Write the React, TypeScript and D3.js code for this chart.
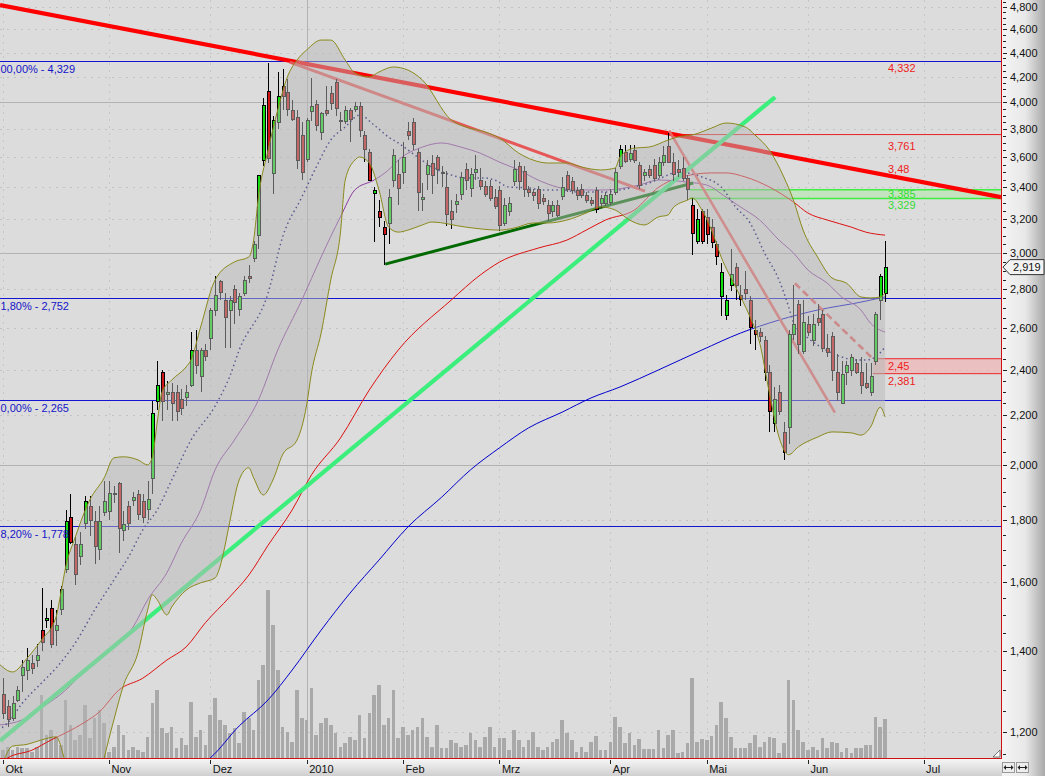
import React from "react";
import * as d3 from "d3";

const W = 1045;
const H = 776;
const PR = 1001; // plot right
const PB = 758; // plot bottom

const monthLabels = ["Okt", "Nov", "Dez", "2010", "Feb", "Mrz", "Apr", "Mai", "Jun", "Jul"];
const monthStarts = [0, 22, 43, 63, 83, 103, 126, 146, 167, 191];

const open = [
  1.290,1.260,1.232,1.276,1.340,1.351,1.370,1.377,1.458,1.486,
  1.520,1.458,1.518,1.640,1.810,1.720,1.680,1.790,1.850,1.798,
  1.705,1.830,1.832,1.890,1.930,1.765,1.850,1.870,1.890,1.868,
  1.840,1.950,2.260,2.390,2.290,2.300,2.300,2.270,2.280,2.330,
  2.490,2.370,2.490,2.550,2.690,2.840,2.740,2.690,2.800,2.690,
  2.780,2.870,2.970,3.100,3.580,4.090,3.500,3.850,4.130,4.080,
  3.940,3.890,3.760,3.590,3.930,3.990,3.780,3.940,4.070,4.160,
  3.870,3.860,3.940,3.950,3.970,3.760,3.640,3.360,3.250,3.150,
  3.180,3.450,3.490,3.500,3.790,3.850,3.640,3.330,3.490,3.560,
  3.600,3.500,3.400,3.250,3.290,3.360,3.520,3.400,3.500,3.450,
  3.410,3.410,3.340,3.380,3.180,3.250,3.440,3.540,3.510,3.390,
  3.370,3.390,3.330,3.290,3.250,3.290,3.340,3.480,3.440,3.380,
  3.390,3.350,3.320,3.380,3.300,3.300,3.310,3.370,3.540,3.640,
  3.590,3.650,3.550,3.480,3.520,3.550,3.480,3.570,3.680,3.570,
  3.520,3.530,3.460,3.290,3.070,3.250,3.210,3.150,3.050,2.760,
  2.660,2.820,2.920,2.770,2.800,2.740,2.590,2.580,2.540,2.390,
  2.170,2.300,2.130,2.150,2.570,2.720,2.490,2.620,2.540,2.650,
  2.670,2.500,2.560,2.390,2.250,2.390,2.400,2.430,2.390,2.340,
  2.300,2.440,2.740,2.780,
];
const high = [
  1.330,1.276,1.285,1.310,1.377,1.408,1.390,1.420,1.580,1.520,
  1.544,1.514,1.587,1.836,1.890,1.745,1.760,1.885,1.885,1.832,
  1.850,1.940,1.940,1.920,1.935,1.830,1.868,1.900,1.906,1.890,
  1.940,2.260,2.440,2.400,2.350,2.340,2.330,2.310,2.330,2.580,
  2.590,2.500,2.520,2.700,2.870,2.850,2.780,2.760,2.820,2.780,
  2.870,2.930,3.070,3.480,4.030,4.310,3.900,4.240,4.260,4.180,
  4.020,3.940,3.850,3.880,4.190,4.020,3.930,4.130,4.130,4.180,
  3.930,3.970,3.960,4.000,4.000,3.790,3.660,3.400,3.320,3.190,
  3.390,3.660,3.580,3.710,3.850,3.880,3.660,3.430,3.580,3.620,
  3.620,3.540,3.510,3.320,3.360,3.500,3.560,3.530,3.620,3.530,
  3.440,3.450,3.390,3.410,3.330,3.340,3.580,3.570,3.540,3.410,
  3.390,3.410,3.360,3.320,3.310,3.320,3.470,3.510,3.470,3.400,
  3.420,3.370,3.340,3.400,3.350,3.370,3.390,3.530,3.690,3.690,
  3.690,3.690,3.570,3.520,3.550,3.590,3.600,3.680,3.770,3.630,
  3.580,3.600,3.480,3.330,3.260,3.260,3.260,3.200,3.070,2.940,
  2.770,3.020,2.940,2.820,2.900,2.760,2.640,2.600,2.560,2.420,
  2.320,2.330,2.170,2.590,2.820,2.740,2.740,2.660,2.670,2.720,
  2.690,2.570,2.580,2.470,2.440,2.440,2.470,2.450,2.460,2.430,
  2.430,2.680,2.880,3.070,
];
const low = [
  1.230,1.212,1.225,1.270,1.295,1.325,1.340,1.360,1.400,1.465,
  1.410,1.415,1.500,1.625,1.720,1.590,1.650,1.770,1.745,1.655,
  1.666,1.815,1.800,1.860,1.690,1.730,1.765,1.850,1.800,1.790,
  1.800,1.890,2.220,2.175,2.220,2.175,2.175,2.200,2.240,2.320,
  2.380,2.300,2.440,2.490,2.660,2.740,2.500,2.500,2.620,2.660,
  2.760,2.830,2.950,3.020,3.540,3.560,3.360,3.800,3.940,3.900,
  3.860,3.520,3.450,3.570,3.860,3.790,3.720,3.900,3.940,3.900,
  3.790,3.840,3.710,3.930,3.740,3.570,3.440,3.060,3.150,2.930,
  3.050,3.400,3.290,3.420,3.720,3.650,3.250,3.250,3.380,3.360,
  3.420,3.400,3.160,3.140,3.240,3.320,3.380,3.340,3.450,3.380,
  3.340,3.310,3.260,3.130,3.160,3.220,3.410,3.380,3.340,3.340,
  3.310,3.260,3.290,3.190,3.210,3.210,3.320,3.370,3.360,3.320,
  3.330,3.300,3.280,3.240,3.270,3.280,3.290,3.350,3.520,3.560,
  3.570,3.560,3.390,3.440,3.460,3.440,3.460,3.540,3.560,3.440,
  3.470,3.440,3.320,2.990,3.050,3.050,3.050,3.030,2.930,2.660,
  2.640,2.790,2.740,2.710,2.740,2.520,2.490,2.530,2.350,2.130,
  2.130,2.200,2.020,2.080,2.540,2.470,2.470,2.560,2.510,2.610,
  2.480,2.460,2.350,2.260,2.250,2.330,2.370,2.380,2.290,2.310,
  2.280,2.420,2.640,2.730,
];
const close = [
  1.245,1.228,1.268,1.300,1.360,1.377,1.357,1.390,1.424,1.492,
  1.420,1.472,1.578,1.798,1.725,1.625,1.720,1.868,1.800,1.715,
  1.798,1.868,1.895,1.895,1.770,1.785,1.790,1.880,1.820,1.810,
  1.875,2.210,2.330,2.260,2.300,2.250,2.220,2.230,2.300,2.490,
  2.420,2.490,2.460,2.690,2.770,2.780,2.650,2.740,2.730,2.760,
  2.850,2.860,3.050,3.480,3.980,3.600,3.870,4.050,4.050,3.950,
  3.870,3.580,3.500,3.870,3.970,3.830,3.920,3.920,3.990,3.960,
  3.860,3.940,3.870,3.970,3.790,3.660,3.450,3.380,3.210,3.110,
  3.340,3.620,3.400,3.600,3.760,3.690,3.370,3.340,3.550,3.480,
  3.520,3.490,3.230,3.200,3.310,3.470,3.450,3.490,3.520,3.410,
  3.360,3.330,3.280,3.160,3.290,3.300,3.520,3.440,3.390,3.370,
  3.350,3.300,3.310,3.240,3.290,3.230,3.400,3.390,3.380,3.350,
  3.350,3.320,3.300,3.260,3.330,3.350,3.360,3.500,3.660,3.580,
  3.630,3.580,3.420,3.500,3.480,3.460,3.570,3.620,3.570,3.490,
  3.500,3.460,3.390,3.120,3.200,3.070,3.110,3.060,2.980,2.890,
  2.740,2.880,2.820,2.750,2.780,2.600,2.570,2.560,2.390,2.220,
  2.270,2.220,2.050,2.570,2.620,2.520,2.630,2.580,2.620,2.630,
  2.500,2.480,2.400,2.300,2.380,2.420,2.460,2.390,2.330,2.320,
  2.370,2.670,2.870,2.919,
];
const volume = [
  80,110,80,110,100,100,60,110,630,230,
  280,210,130,580,330,180,230,530,200,400,
  480,350,60,110,330,230,80,110,80,60,
  210,550,680,300,250,310,100,200,130,560,
  210,280,130,430,600,380,330,250,300,150,
  460,400,280,780,930,1680,1330,880,310,260,
  160,680,400,380,700,230,350,400,330,250,
  110,150,210,180,430,200,450,630,730,330,
  400,680,200,310,230,280,310,400,210,110,
  330,100,100,180,150,110,130,250,180,110,
  210,310,110,200,200,80,280,180,110,180,
  260,110,80,110,160,190,380,250,180,60,
  110,60,160,220,80,80,160,410,310,150,
  250,130,190,90,90,90,280,100,230,280,
  50,60,150,800,160,190,180,220,330,560,
  400,210,100,100,100,150,230,110,160,210,
  200,50,150,780,580,280,160,80,110,80,
  200,100,160,150,60,100,50,100,100,130,
  130,410,310,390,
];

// indicator lines: [trading-day index, value]
const bbUpper: [number, number][] = [
  [-1,1.369],[2,1.346],[5,1.382],[8,1.431],[11,1.495],[12,1.565],[13,1.645],[15,1.742],[18,1.870],[21,1.951],
  [23,2.027],[25,2.031],[28,2.019],[30,2.000],[31,2.031],[32,2.171],[33,2.299],[35,2.352],[38,2.412],[39,2.444],
  [41,2.603],[44,2.848],[48,2.948],[51,2.976],[52,3.074],[53,3.337],[55,3.651],[57,3.942],[59,4.199],[61,4.337],
  [63,4.421],[66,4.506],[68,4.506],[71,4.337],[73,4.231],[76,4.199],[78,4.239],[81,4.280],[84,4.255],[87,4.175],
  [93,3.867],[96,3.816],[100,3.780],[103,3.736],[107,3.630],[110,3.582],[113,3.562],[117,3.562],[120,3.535],[124,3.515],
  [127,3.528],[128,3.603],[131,3.665],[134,3.672],[138,3.722],[140,3.744],[143,3.758],[147,3.808],[150,3.845],[154,3.816],
  [156,3.758],[159,3.651],[162,3.468],[164,3.318],[166,3.133],[169,2.976],[172,2.859],[175,2.831],[178,2.757],[180,2.752],
  [182,2.757],[183,2.778],
];
const bbLower: [number, number][] = [
  [-1,1.10],[2,1.168],[5,1.172],[8,1.182],[11,1.189],[13,1.13],[16,1.02],[19,1.05],[21,1.142],[23,1.228],
  [25,1.312],[28,1.396],[30,1.515],[31,1.560],[32,1.545],[34,1.501],[35,1.524],[38,1.574],[41,1.596],[44,1.611],
  [45,1.645],[46,1.709],[47,1.790],[49,1.943],[51,1.989],[52,1.951],[54,1.888],[56,1.943],[58,2.039],[61,2.097],
  [63,2.243],[64,2.384],[66,2.573],[68,2.848],[70,3.115],[71,3.448],[73,3.582],[74,3.603],[76,3.562],[78,3.383],
  [80,3.151],[82,3.121],[84,3.133],[87,3.164],[89,3.182],[96,3.151],[103,3.133],[106,3.145],[110,3.176],[113,3.176],
  [117,3.194],[121,3.237],[124,3.275],[127,3.256],[130,3.194],[133,3.164],[136,3.213],[138,3.225],[139,3.269],[142,3.318],
  [143,3.331],[145,3.256],[147,3.133],[149,2.976],[152,2.810],[155,2.653],[157,2.524],[159,2.295],[161,2.109],[163,2.039],
  [165,2.070],[169,2.109],[172,2.130],[176,2.126],[178,2.117],[180,2.150],[182,2.233],[183,2.192],
];
const sma20: [number, number][] = [
  [-1,1.205],[1,1.221],[4,1.268],[8,1.318],[11,1.356],[15,1.423],[19,1.515],[23,1.605],[26,1.676],[29,1.766],
  [32,1.835],[35,1.943],[39,2.097],[44,2.238],[47,2.366],[49,2.491],[55,2.778],[58,3.091],[62,3.337],[65,3.535],
  [68,3.722],[71,3.816],[74,3.904],[77,3.830],[80,3.743],[82,3.701],[86,3.603],[89,3.535],[93,3.481],[96,3.461],
  [100,3.461],[102,3.448],[105,3.402],[109,3.396],[112,3.383],[116,3.383],[119,3.370],[122,3.370],[125,3.370],[128,3.383],
  [131,3.402],[134,3.428],[137,3.468],[140,3.501],[145,3.468],[149,3.402],[152,3.275],[155,3.176],[158,2.999],[161,2.848],
  [163,2.705],[164,2.627],[167,2.549],[169,2.515],[174,2.458],[177,2.444],[179,2.444],[181,2.458],[183,2.505],
];
const smaPurple: [number, number][] = [
  [-1,1.216],[4,1.228],[8,1.257],[13,1.300],[17,1.351],[22,1.404],[27,1.467],[30,1.545],[34,1.627],[37,1.722],
  [41,1.835],[44,1.981],[48,2.097],[53,2.264],[57,2.491],[62,2.741],[66,2.976],[70,3.213],[73,3.383],[77,3.448],
  [80,3.515],[82,3.582],[87,3.672],[91,3.701],[95,3.672],[99,3.630],[103,3.568],[107,3.515],[111,3.448],[115,3.402],
  [118,3.383],[122,3.383],[125,3.383],[129,3.396],[132,3.415],[136,3.448],[142,3.434],[146,3.415],[150,3.337],[153,3.275],
  [157,3.194],[161,3.074],[164,2.999],[167,2.903],[171,2.831],[174,2.757],[178,2.689],[180,2.622],[183,2.578],
];
const smaRed: [number, number][] = [
  [-1,1.12],[1,1.142],[6,1.159],[10,1.182],[13,1.198],[17,1.223],[20,1.247],[24,1.300],[29,1.330],[34,1.377],
  [38,1.412],[42,1.479],[47,1.553],[51,1.620],[55,1.715],[60,1.835],[64,1.962],[70,2.105],[76,2.308],[82,2.491],
  [93,2.741],[99,2.875],[103,2.947],[111,3.027],[117,3.074],[121,3.133],[125,3.194],[131,3.256],[136,3.40],[140,3.461],
  [147,3.495],[150,3.495],[154,3.468],[159,3.402],[164,3.306],[167,3.237],[171,3.194],[176,3.151],[179,3.121],[183,3.103],
];
const sma200: [number, number][] = [
  [40,1.12],[43,1.142],[49,1.214],[55,1.276],[60,1.351],[66,1.458],[72,1.565],[78,1.667],[84,1.776],[91,1.880],
  [97,1.981],[103,2.066],[109,2.146],[116,2.212],[122,2.273],[128,2.321],[136,2.398],[145,2.491],[153,2.573],[161,2.638],
  [169,2.689],[178,2.730],[183,2.757],
];

// drawn trend lines: [index, value] end points
const trendStarts: [number, number][] = [
  [-0.62, 4.818], [59.5, 4.32], [138.2, 3.79], [164.3, 2.83], [79.3, 2.936], [-0.62, 1.18],
];
const trendEnds: [number, number][] = [
  [207.05, 3.337], [133.2, 3.376], [172.6, 2.21], [180.5, 2.45], [143.2, 3.428], [160.2, 4.041],
];
const trendStyles = [
  { color: "#ff0000", width: 4.2, dash: "" },
  { color: "#e65858", width: 3, dash: "" },
  { color: "#e66464", width: 2.6, dash: "" },
  { color: "#e05c5c", width: 2.6, dash: "7,4" },
  { color: "#006a00", width: 3, dash: "" },
  { color: "#3cef7c", width: 4.2, dash: "" },
];

// Fibonacci levels; the labels are shown as they appear (their first character
// is hidden behind the left edge of the chart window)
const fibValues = [4.329, 2.752, 2.265, 1.778];
const fibTexts = ["00,00% - 4,329", "1,80% - 2,752", "0,00% - 2,265", "8,20% - 1,778"];

const redLevel = 3.761;
const redLevelStart = 138.2;
const greenZone = [3.385, 3.329];
const greenZoneStart = 142.5;
const redZone = [2.45, 2.381];
const redZoneStart = 180.5;

const rightTexts = ["4,332", "3,761", "3,48", "3,385", "3,329", "2,45", "2,381"];
const rightValues = [4.332, 3.761, 3.48, 3.385, 3.329, 2.45, 2.381];
const rightColors = ["#ee1c1c", "#ee1c1c", "#ee1c1c", "#33dd33", "#33dd33", "#ee1c1c", "#ee1c1c"];
const rightDy = [11, 15.5, -2, 8.5, 10.5, 11, 11];

const majorTicks = d3.range(12, 49, 2).map((d) => d / 10);
const minorTicks = d3.range(23, 98, 1).map((d) => d / 20);

const FONT = "'Liberation Sans', Arial, Helvetica, sans-serif";

const fmt = (v: number) => v.toFixed(3).replace(".", ",");

function ArrowIcon({ cx, cy }: { cx: number; cy: number }) {
  return (
    <g stroke="#222" strokeWidth={1} fill="#222">
      <line x1={cx - 4} x2={cx + 4} y1={cy} y2={cy} />
      <path d={`M${cx - 5},${cy} L${cx - 2.5},${cy - 2.5} L${cx - 2.5},${cy + 2.5} Z`} stroke="none" />
      <path d={`M${cx + 5},${cy} L${cx + 2.5},${cy - 2.5} L${cx + 2.5},${cy + 2.5} Z`} stroke="none" />
    </g>
  );
}

export default function App() {
  const x = d3.scaleLinear().domain([0, 191]).range([3, 923.6]);
  const y = d3.scaleLog().domain([1.2, 4.8]).range([732, 7]);
  const yv = d3.scaleLinear().domain([0, 1700]).range([PB, 588]);

  const line = d3
    .line<[number, number]>()
    .x((d) => x(d[0]))
    .y((d) => y(d[1]))
    .curve(d3.curveMonotoneX);

  const upperPath = line(bbUpper) || "";
  const lowerRev = line([...bbLower].reverse()) || "";
  const bandPath = upperPath + "L" + lowerRev.slice(1) + "Z";

  const lastClose = close[close.length - 1];
  const tagY = y(lastClose);

  return (
    <svg
      width={W}
      height={H}
      style={{ position: "absolute", left: 0, top: 0, display: "block" }}
      fontFamily={FONT}
    >
      <defs>
        <clipPath id="plot">
          <rect x={0} y={0} width={PR} height={PB} />
        </clipPath>
        <linearGradient id="axisGrad" x1="0" x2="1" y1="0" y2="0">
          <stop offset="0%" stopColor="#f4f4f4" />
          <stop offset="55%" stopColor="#e8e8e8" />
          <stop offset="100%" stopColor="#a9a9a9" />
        </linearGradient>
        <linearGradient id="botGrad" x1="0" x2="0" y1="0" y2="1">
          <stop offset="0%" stopColor="#f6f6f6" />
          <stop offset="100%" stopColor="#cfcfcf" />
        </linearGradient>
      </defs>

      {/* plot background */}
      <rect x={0} y={0} width={PR} height={PB} fill="#dcdcdc" />

      <g clipPath="url(#plot)">
        {/* horizontal grid */}
        {majorTicks.map((t) => {
          const solid = Math.abs(t - Math.round(t)) < 1e-6;
          return (
            <line
              key={"hg" + t}
              x1={0}
              x2={PR}
              y1={Math.round(y(t)) + 0.5}
              y2={Math.round(y(t)) + 0.5}
              stroke={solid ? "#b2b2b2" : "#c2c2c2"}
              strokeDasharray={solid ? undefined : "2,5"}
            />
          );
        })}
        {/* vertical grid */}
        {monthStarts.map((m, k) => (
          <line
            key={"vg" + k}
            x1={Math.round(x(m)) + 0.5}
            x2={Math.round(x(m)) + 0.5}
            y1={0}
            y2={PB}
            stroke={monthLabels[k] === "2010" ? "#b2b2b2" : "#c6c6c6"}
            strokeDasharray={monthLabels[k] === "2010" ? undefined : "2,5"}
          />
        ))}

        {/* volume */}
        <g shapeRendering="crispEdges">
          {volume.map((v, i) => (
            <rect
              key={"v" + i}
              x={x(i) - 1.8}
              y={yv(v)}
              width={3.6}
              height={PB - yv(v)}
              fill="#a9a9a9"
            />
          ))}
        </g>

        {/* fibonacci levels */}
        {fibValues.map((v, k) => (
          <line
            key={"fib" + k}
            x1={0}
            x2={PR}
            y1={Math.round(y(v)) + 0.5}
            y2={Math.round(y(v)) + 0.5}
            stroke="#1414d2"
            strokeWidth={1}
          />
        ))}

        {/* resistance / support zones */}
        <line x1={x(redLevelStart)} x2={PR} y1={y(redLevel)} y2={y(redLevel)} stroke="#e82020" strokeWidth={1} />
        <rect
          x={x(greenZoneStart)}
          y={y(greenZone[0])}
          width={PR - x(greenZoneStart)}
          height={y(greenZone[1]) - y(greenZone[0])}
          fill="#a8e8a0"
          fillOpacity={0.45}
        />
        {greenZone.map((v, k) => (
          <line key={"gz" + k} x1={x(greenZoneStart)} x2={PR} y1={y(v)} y2={y(v)} stroke="#40ee40" strokeWidth={1.5} />
        ))}
        <rect
          x={x(redZoneStart)}
          y={y(redZone[0])}
          width={PR - x(redZoneStart)}
          height={y(redZone[1]) - y(redZone[0])}
          fill="#f0b4b4"
          fillOpacity={0.7}
        />
        {redZone.map((v, k) => (
          <line key={"rz" + k} x1={x(redZoneStart)} x2={PR} y1={y(v)} y2={y(v)} stroke="#e82828" strokeWidth={1} />
        ))}

        {/* moving averages */}
        <path d={line(sma200) || ""} fill="none" stroke="#0000cc" strokeWidth={1} />
        <path d={line(smaRed) || ""} fill="none" stroke="#dd1010" strokeWidth={1} />
        <path d={line(smaPurple) || ""} fill="none" stroke="#8a3a9e" strokeWidth={1} />
        <path d={line(sma20) || ""} fill="none" stroke="#000070" strokeWidth={1.5} strokeDasharray="1.5,3" />

        {/* trend lines */}
        {trendStarts.map((s, k) => (
          <line
            key={"tl" + k}
            x1={x(s[0])}
            y1={y(s[1])}
            x2={x(trendEnds[k][0])}
            y2={y(trendEnds[k][1])}
            stroke={trendStyles[k].color}
            strokeWidth={trendStyles[k].width}
            strokeDasharray={trendStyles[k].dash || undefined}
          />
        ))}

        {/* candles */}
        <g shapeRendering="crispEdges">
          {open.map((o, i) => {
            const cx = Math.round(x(i));
            const c = close[i];
            const up = c >= o;
            const y0 = y(o);
            const y1 = y(c);
            const top = Math.round(Math.min(y0, y1));
            const h = Math.max(1, Math.round(Math.abs(y0 - y1)));
            return (
              <g key={"c" + i}>
                <line x1={cx + 0.5} x2={cx + 0.5} y1={y(high[i])} y2={y(low[i])} stroke="#000" strokeWidth={1} />
                <rect
                  x={cx - 1}
                  y={top + 0.5}
                  width={3}
                  height={h}
                  fill={up ? "#10e010" : "#cf1515"}
                  stroke="#000"
                  strokeWidth={1}
                />
              </g>
            );
          })}
        </g>

        {/* bollinger band overlay */}
        <path d={bandPath} fill="rgb(184,184,184)" fillOpacity={0.5} stroke="none" />
        <path d={upperPath} fill="none" stroke="#8a8a1c" strokeWidth={1} />
        <path d={line(bbLower) || ""} fill="none" stroke="#8a8a1c" strokeWidth={1} />

        {/* fibonacci labels */}
        {fibValues.map((v, k) => (
          <text key={"ft" + k} x={0.5} y={y(v) + 12} fontSize={11} fill="#1414c8">
            {fibTexts[k]}
          </text>
        ))}
        {/* right side labels */}
        {rightTexts.map((t, k) => (
          <text key={"rt" + k} x={888} y={y(rightValues[k]) + rightDy[k]} fontSize={11} fill={rightColors[k]}>
            {t}
          </text>
        ))}
      </g>

      {/* right axis panel */}
      <rect x={PR + 1} y={0} width={W - PR - 1} height={H} fill="url(#axisGrad)" />
      {/* bottom axis panel */}
      <rect x={0} y={PB + 1} width={PR + 1} height={H - PB - 1} fill="url(#botGrad)" />

      {/* border lines */}
      <line x1={PR + 0.5} x2={PR + 0.5} y1={0} y2={PB + 1} stroke="#d01010" strokeWidth={1} />
      <line x1={0} x2={PR + 1} y1={PB + 0.5} y2={PB + 0.5} stroke="#d01010" strokeWidth={1} />

      {/* right axis ticks and labels */}
      {minorTicks.map((t) => (
        <line
          key={"mt" + t}
          x1={PR + 2}
          x2={PR + 5}
          y1={Math.round(y(t)) + 0.5}
          y2={Math.round(y(t)) + 0.5}
          stroke="#222"
          strokeWidth={1}
        />
      ))}
      {majorTicks.map((t) => (
        <g key={"yt" + t}>
          <line
            x1={PR + 2}
            x2={PR + 6}
            y1={Math.round(y(t)) + 0.5}
            y2={Math.round(y(t)) + 0.5}
            stroke="#222"
            strokeWidth={1}
          />
          <text x={PR + 9} y={y(t) + 4} fontSize={11} fill="#111">
            {fmt(t)}
          </text>
        </g>
      ))}

      {/* last price tag */}
      <path
        d={`M${PR + 2},${tagY} L${PR + 9},${tagY - 7.5} L${W - 1},${tagY - 7.5} L${W - 1},${tagY + 7.5} L${PR + 9},${tagY + 7.5} Z`}
        fill="#f2f2f2"
        stroke="#333"
        strokeWidth={1}
      />
      <text x={PR + 12} y={tagY + 4} fontSize={11} fill="#111">
        {fmt(lastClose)}
      </text>

      {/* bottom axis */}
      {monthStarts.map((m, k) => (
        <g key={"xt" + k}>
          <line
            x1={Math.round(x(m)) + 0.5}
            x2={Math.round(x(m)) + 0.5}
            y1={PB + 2}
            y2={PB + 6}
            stroke="#222"
            strokeWidth={1}
          />
          <text x={x(m) + 2.5} y={PB + 15} fontSize={11} fill="#111">
            {monthLabels[k]}
          </text>
        </g>
      ))}

      {/* corner widgets */}
      <polygon points={`${PR - 8},${PB - 1} ${PR - 1},${PB - 8} ${PR - 1},${PB - 1}`} fill="#ffffff" stroke="#555" strokeWidth={0.8} />
      <rect x={PR + 1.5} y={PB + 4.5} width={12} height={10} fill="#eeeeee" stroke="#999" />
      <rect x={PR + 15.5} y={PB + 4.5} width={12} height={10} fill="#eeeeee" stroke="#999" />
      <ArrowIcon cx={PR + 7.5} cy={PB + 9.5} />
      <ArrowIcon cx={PR + 21.5} cy={PB + 9.5} />
    </svg>
  );
}
